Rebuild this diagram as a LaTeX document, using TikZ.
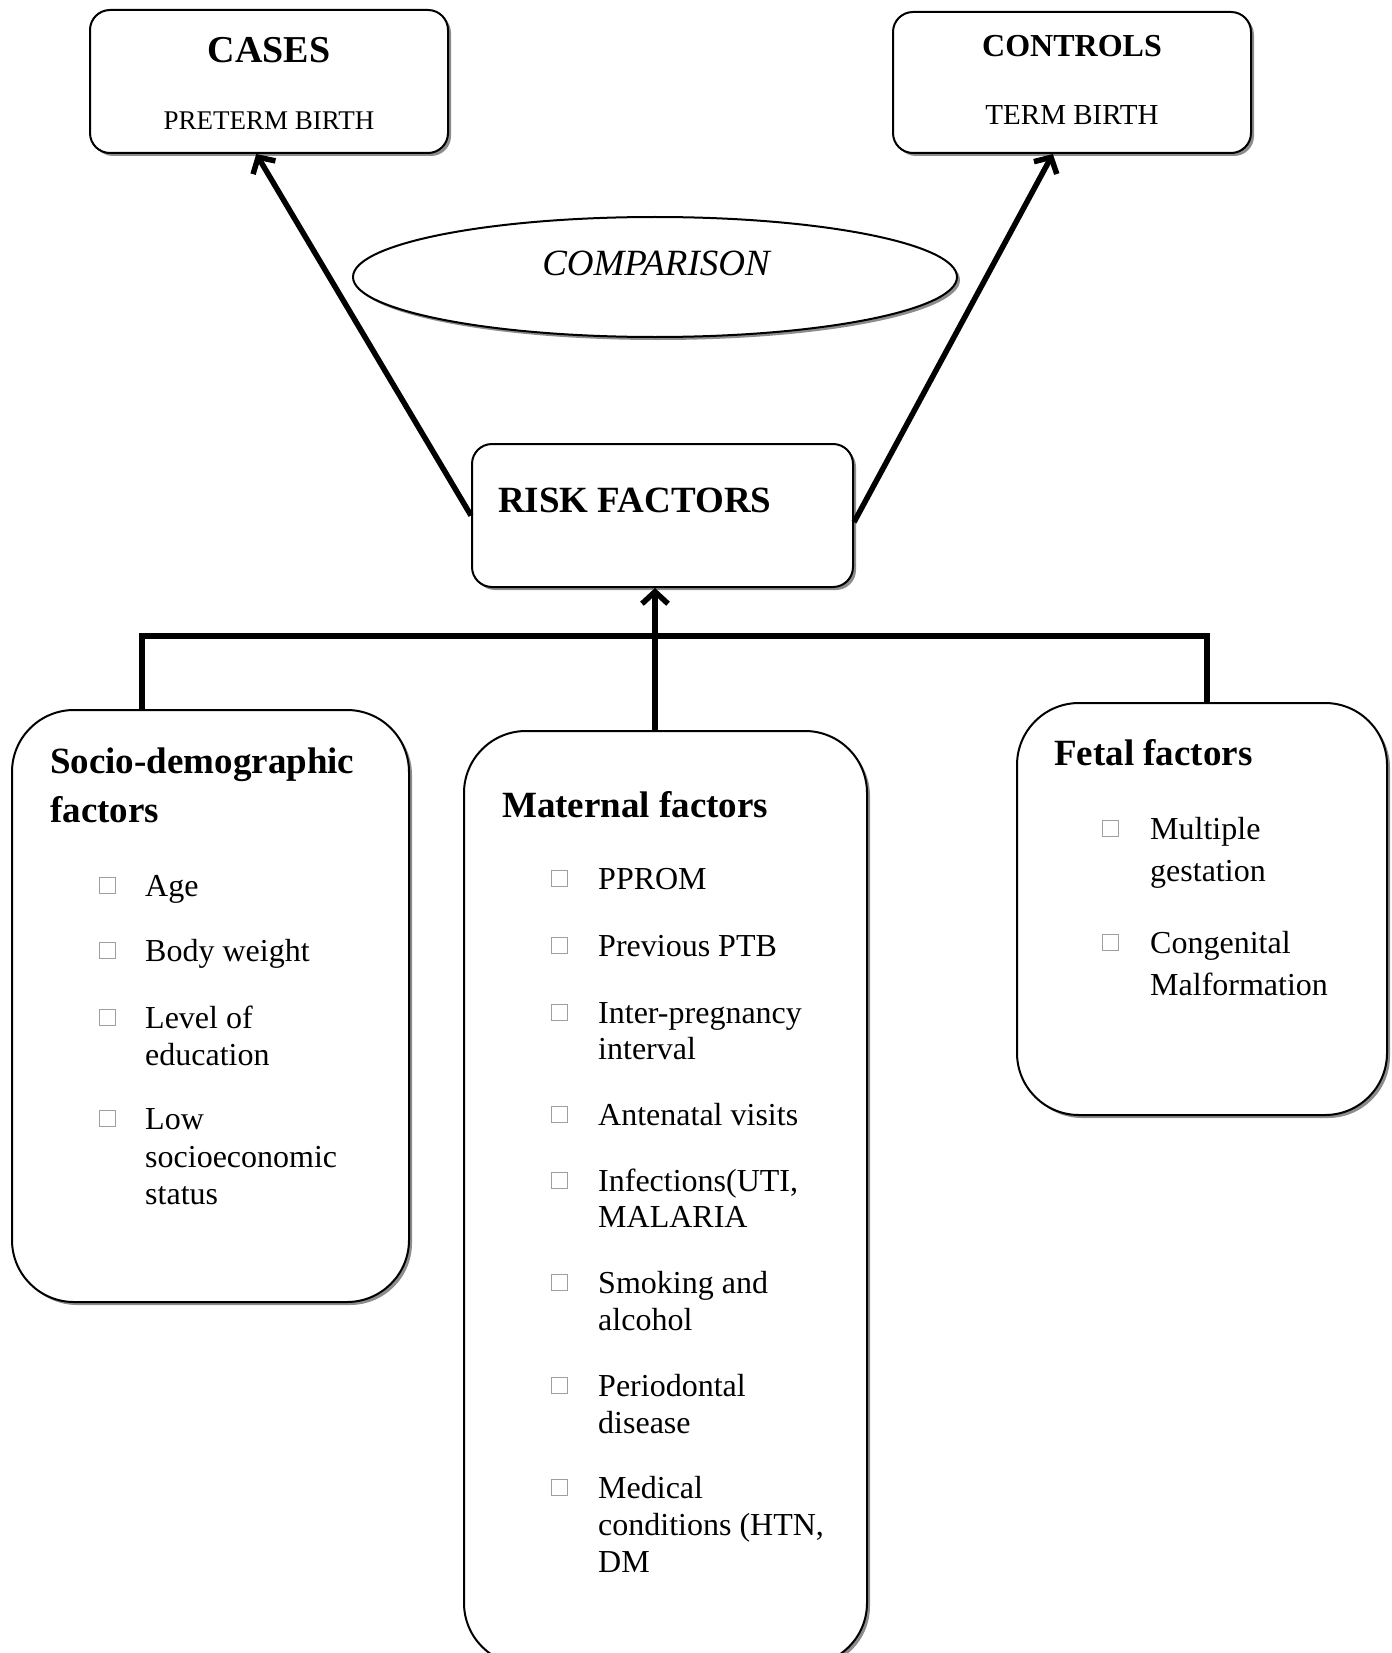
\documentclass[tikz,border=0pt]{standalone}
\usepackage{fontspec}
\setmainfont{Liberation Serif}
\usetikzlibrary{arrows.meta,shadows,calc,shapes.geometric}
\begin{document}
\begin{tikzpicture}[x=1pt,y=-1pt,
  shad/.style={drop shadow={shadow xshift=3pt,shadow yshift=-3pt,fill=black!45,opacity=1}},
  topbox/.style={draw,line width=2pt,rounded corners=20pt,fill=white,shad,inner sep=0pt},
  bigbox/.style={draw,line width=2pt,rounded corners=62pt,fill=white,shad,inner sep=0pt},
  hd/.style={font=\fontsize{37}{44}\selectfont\bfseries,anchor=base west,inner sep=0pt},
  itm/.style={font=\fontsize{32}{38}\selectfont,anchor=base west,inner sep=0pt},
  bul/.style={draw=gray!75,line width=1pt,minimum size=16pt,inner sep=0pt},
  conn/.style={line width=5.5pt},
  arr/.style={line width=5.5pt,-{Straight Barb[length=12pt,width=26pt]}}
]
\useasboundingbox (0,0) rectangle (1391,1653);
\clip (0,0) rectangle (1391,1653);

% top boxes
\node[topbox,minimum width=358pt,minimum height=143pt] (cases) at (269,81.5) {};
\node[font=\fontsize{38}{44}\selectfont\bfseries,anchor=base,inner sep=0pt] (casest) at (269,63) {CASES};
\node[font=\fontsize{27}{32}\selectfont,anchor=base,inner sep=0pt] (casess) at (269,130) {PRETERM BIRTH};

\node[topbox,minimum width=358pt,minimum height=141pt] (controls) at (1072,82.5) {};
\node[font=\fontsize{32}{38}\selectfont\bfseries,anchor=base,inner sep=0pt] (controlst) at (1072,57) {CONTROLS};
\node[font=\fontsize{29}{34}\selectfont,anchor=base,inner sep=0pt] (controlss) at (1072,125) {TERM BIRTH};

% comparison
\node[ellipse,draw,line width=2pt,fill=white,shad,minimum width=604pt,minimum height=120pt,inner sep=0pt] (comp) at (655,277) {};
\node[font=\fontsize{37}{44}\selectfont\itshape,anchor=base,inner sep=0pt] (compt) at (656,276) {COMPARISON};

% risk factors
\node[topbox,minimum width=381pt,minimum height=143pt] (risk) at (662.5,515.5) {};
\node[font=\fontsize{37}{44}\selectfont\bfseries,anchor=base west,inner sep=0pt] (riskt) at (498,512) {RISK FACTORS};

% lower boxes
\node[bigbox,minimum width=397pt,minimum height=592pt] (socio) at (210.5,1006) {};
\node[bigbox,minimum width=403pt,minimum height=934pt] (maternal) at (665.5,1198) {};
\node[bigbox,minimum width=370pt,minimum height=412pt] (fetal) at (1202,909) {};

% connectors
\draw[arr] (risk.west) -- (cases.260);
\draw[arr] (risk.-2) -- (controls.255);
\draw[arr] ($(maternal.north)+(-10.5,0)$) -- ($(risk.south)+(-7.5,0)$);
\draw[conn] ($(socio.north west)+(131,0)$) |- ($(fetal.north)+(5,-66)$) -- ($(fetal.north)+(5,0)$);

% socio-demographic
\node[hd] (s1) at (50,773) {Socio-demographic};
\node[hd] (s2) at (50,822) {factors};
\node[bul] (sb1) at (107,885) {}; \node[itm] (st1) at (145,896) {Age};
\node[bul] (sb2) at (107,950) {}; \node[itm] (st2) at (145,961) {Body weight};
\node[bul] (sb3) at (107,1017) {}; \node[itm] (st3) at (145,1028) {Level of};
\node[itm] (st3b) at (145,1065) {education};
\node[bul] (sb4) at (107,1118) {}; \node[itm] (st4) at (145,1129) {Low};
\node[itm] (st4b) at (145,1167) {socioeconomic};
\node[itm] (st4c) at (145,1204) {status};

% maternal
\node[hd] (m0) at (502,817) {Maternal factors};
\node[bul] (mb1) at (559,878) {}; \node[itm] (mt1) at (598,889) {PPROM};
\node[bul] (mb2) at (559,945) {}; \node[itm] (mt2) at (598,956) {Previous PTB};
\node[bul] (mb3) at (559,1012) {}; \node[itm] (mt3) at (598,1023) {Inter-pregnancy};
\node[itm] (mt3b) at (598,1059) {interval};
\node[bul] (mb4) at (559,1114) {}; \node[itm] (mt4) at (598,1125) {Antenatal visits};
\node[bul] (mb5) at (559,1180) {}; \node[itm] (mt5) at (598,1191) {Infections(UTI,};
\node[itm] (mt5b) at (598,1227) {MALARIA};
\node[bul] (mb6) at (559,1282) {}; \node[itm] (mt6) at (598,1293) {Smoking and};
\node[itm] (mt6b) at (598,1330) {alcohol};
\node[bul] (mb7) at (559,1385) {}; \node[itm] (mt7) at (598,1396) {Periodontal};
\node[itm] (mt7b) at (598,1433) {disease};
\node[bul] (mb8) at (559,1487) {}; \node[itm] (mt8) at (598,1498) {Medical};
\node[itm] (mt8b) at (598,1535) {conditions (HTN,};
\node[itm] (mt8c) at (598,1572) {DM};

% fetal
\node[hd] (f0) at (1054,765) {Fetal factors};
\node[bul] (fb1) at (1110,828) {}; \node[itm] (ft1) at (1150,839) {Multiple};
\node[itm] (ft1b) at (1150,881) {gestation};
\node[bul] (fb2) at (1110,942) {}; \node[itm] (ft2) at (1150,953) {Congenital};
\node[itm] (ft2b) at (1150,995) {Malformation};
\end{tikzpicture}
\end{document}
